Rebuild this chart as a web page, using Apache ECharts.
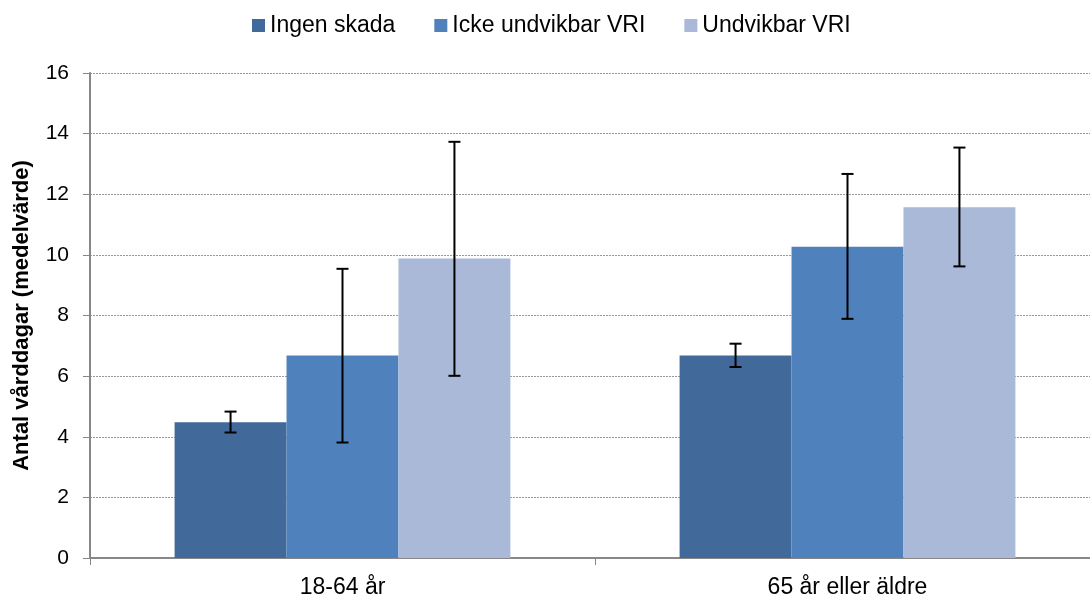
<!DOCTYPE html>
<html>
<head>
<meta charset="utf-8">
<script src="https://cdn.jsdelivr.net/npm/echarts@6/dist/echarts.min.js"></script>
<style>
  html, body { margin: 0; padding: 0; background: #fff; overflow: hidden; }
  /* ritytan är lite bredare än fönstret så att diagramytan fortsätter förbi högerkanten */
  #chart { width: 1100px; height: 599px; }
</style>
</head>
<body>
<div id="chart"></div>
<script>
// Antal vårddagar per åldersgrupp och skadetyp
var categories = ['18-64 år', '65 år eller äldre'];
var seriesNames = ['Ingen skada', 'Icke undvikbar VRI', 'Undvikbar VRI'];
var ingenSkada = [4.48, 6.68];
var ickeUndvikbar = [6.68, 10.27];
var undvikbar = [9.88, 11.57];
// felstaplar (nedre, övre)
var ingenSkadaErr = [[4.14, 4.83], [6.30, 7.07]];
var ickeUndvikbarErr = [[3.81, 9.54], [7.89, 12.67]];
var undvikbarErr = [[6.01, 13.73], [9.62, 13.54]];
var yTicks = [0, 2, 4, 6, 8, 10, 12, 14, 16];

var colors = ['#416A9B', '#4F81BD', '#AAB9D7'];
var gapRatio = 0.335;
var font = 'Liberation Sans, Arial, sans-serif';

var chart = echarts.init(document.getElementById('chart'));

var errorSeries = function (errData, idx) {
  return {
    type: 'custom',
    name: seriesNames[idx] + ' fel',
    silent: true,
    z: 10,
    data: errData.map(function (d, i) { return [i, d[0], d[1]]; }),
    renderItem: function (params, api) {
      var band = api.size([1, 0])[0];
      var barW = band * (1 - gapRatio) / 3;
      var lo = api.coord([api.value(0), api.value(1)]);
      var hi = api.coord([api.value(0), api.value(2)]);
      var x = lo[0] + (idx - 1) * barW;
      var cap = 6;
      var style = { stroke: '#000', lineWidth: 2 };
      return {
        type: 'group',
        children: [
          { type: 'line', shape: { x1: x, y1: lo[1], x2: x, y2: hi[1] }, style: style },
          { type: 'line', shape: { x1: x - cap, y1: lo[1], x2: x + cap, y2: lo[1] }, style: style },
          { type: 'line', shape: { x1: x - cap, y1: hi[1], x2: x + cap, y2: hi[1] }, style: style }
        ]
      };
    }
  };
};

var option = {
  animation: false,
  color: colors,
  textStyle: { fontFamily: font },
  legend: {
    data: seriesNames,
    top: 14,
    left: 252,
    padding: 0,
    itemWidth: 13,
    itemHeight: 13,
    itemGap: 39,
    icon: 'rect',
    textStyle: { fontSize: 23, color: '#000', fontFamily: font }
  },
  grid: {
    left: 90,
    right: 0,
    top: 73,
    bottom: 39,
    containLabel: false
  },
  xAxis: {
    type: 'category',
    data: categories,
    axisLine: { lineStyle: { color: '#878787', width: 2 } },
    axisTick: { show: true, length: 7, lineStyle: { color: '#878787', width: 1 } },
    axisLabel: { fontSize: 23, color: '#000', margin: 18, fontFamily: font },
    splitLine: { show: false }
  },
  yAxis: {
    type: 'value',
    min: 0,
    max: 16,
    interval: 2,
    name: 'Antal vårddagar (medelvärde)',
    nameLocation: 'middle',
    nameGap: 57,
    nameTextStyle: { fontSize: 22, fontWeight: 'bold', color: '#000', fontFamily: font },
    axisLine: { show: true, lineStyle: { color: '#878787', width: 2 } },
    axisTick: { show: true, length: 7, lineStyle: { color: '#878787', width: 1 } },
    axisLabel: { fontSize: 21, color: '#000', margin: 21, fontFamily: font },
    splitLine: { lineStyle: { color: '#999999', type: [2, 1], width: 1 } }
  },
  series: [
    { name: seriesNames[0], type: 'bar', data: ingenSkada, barGap: 0, barCategoryGap: (gapRatio * 100) + '%' },
    { name: seriesNames[1], type: 'bar', data: ickeUndvikbar, barGap: 0, barCategoryGap: (gapRatio * 100) + '%' },
    { name: seriesNames[2], type: 'bar', data: undvikbar, barGap: 0, barCategoryGap: (gapRatio * 100) + '%' },
    errorSeries(ingenSkadaErr, 0),
    errorSeries(ickeUndvikbarErr, 1),
    errorSeries(undvikbarErr, 2)
  ]
};

chart.setOption(option);
</script>
</body>
</html>
